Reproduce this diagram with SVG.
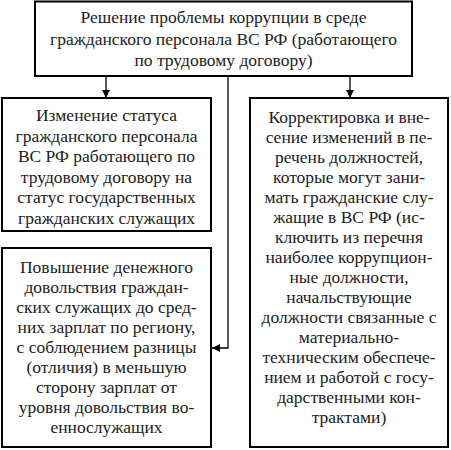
<svg xmlns="http://www.w3.org/2000/svg" width="451" height="450" viewBox="0 0 451 450">
<defs>
<marker id="ah" viewBox="0 0 10 10" refX="10" refY="5" markerWidth="8" markerHeight="8" markerUnits="userSpaceOnUse" orient="auto">
<path d="M0,0 L10,5 L0,10 z" fill="#000"/>
</marker>
<style>
.box{fill:#fff;stroke:#000;stroke-width:2}
text{font-family:"Times New Roman",Tinos,"Liberation Serif","DejaVu Serif",serif;font-size:17.5px;fill:#222;text-anchor:middle}
.c{fill:none;stroke:#000;stroke-width:1.3}
</style>
</defs>
<rect width="451" height="450" fill="#fff"/>
<g id="connectors">
<line class="c" x1="106" y1="76" x2="106" y2="98" marker-end="url(#ah)"/>
<line class="c" x1="350" y1="76" x2="350" y2="98" marker-end="url(#ah)"/>
<polyline class="c" points="228,76 228,348 212,348" marker-end="url(#ah)"/>
</g>
<g id="top">
<rect class="box" x="35" y="1.5" width="377" height="74.5"/>
<text x="223.5" y="23">Решение проблемы коррупции в среде</text>
<text x="223.5" y="44.5">гражданского персонала ВС РФ (работающего</text>
<text x="223.5" y="66">по трудовому договору)</text>
</g>
<g id="left1">
<rect class="box" x="2" y="98" width="209" height="133"/>
<text x="106.5" y="121">Изменение статуса</text>
<text x="106.5" y="141.5">гражданского персонала</text>
<text x="106.5" y="162">ВС РФ работающего по</text>
<text x="106.5" y="182.5">трудовому договору на</text>
<text x="106.5" y="203">статус государственных</text>
<text x="106.5" y="223.5">гражданских служащих</text>
</g>
<g id="left2">
<rect class="box" x="2" y="248" width="209" height="199"/>
<text x="106.5" y="272.5">Повышение денежного</text>
<text x="106.5" y="292.5">довольствия граждан-</text>
<text x="106.5" y="312.5">ских служащих до сред-</text>
<text x="106.5" y="332.5">них зарплат по региону,</text>
<text x="106.5" y="352.5">с соблюдением разницы</text>
<text x="106.5" y="372.5">(отличия) в меньшую</text>
<text x="106.5" y="392.5">сторону зарплат от</text>
<text x="106.5" y="412.5">уровня довольствия во-</text>
<text x="106.5" y="432.5">еннослужащих</text>
</g>
<g id="right">
<rect class="box" x="250" y="98" width="198" height="349"/>
<text x="349" y="122.5">Корректировка и вне-</text>
<text x="349" y="142.5">сение изменений в пе-</text>
<text x="349" y="162.5">речень должностей,</text>
<text x="349" y="182.5">которые могут зани-</text>
<text x="349" y="202.5">мать гражданские слу-</text>
<text x="349" y="222.5">жащие в ВС РФ (ис-</text>
<text x="349" y="242.5">ключить из перечня</text>
<text x="349" y="262.5">наиболее коррупцион-</text>
<text x="349" y="282.5">ные должности,</text>
<text x="349" y="302.5">начальствующие</text>
<text x="349" y="322.5">должности связанные с</text>
<text x="349" y="342.5">материально-</text>
<text x="349" y="362.5">техническим обеспече-</text>
<text x="349" y="382.5">нием и работой с госу-</text>
<text x="349" y="402.5">дарственными кон-</text>
<text x="349" y="422.5">трактами)</text>
</g>
</svg>
